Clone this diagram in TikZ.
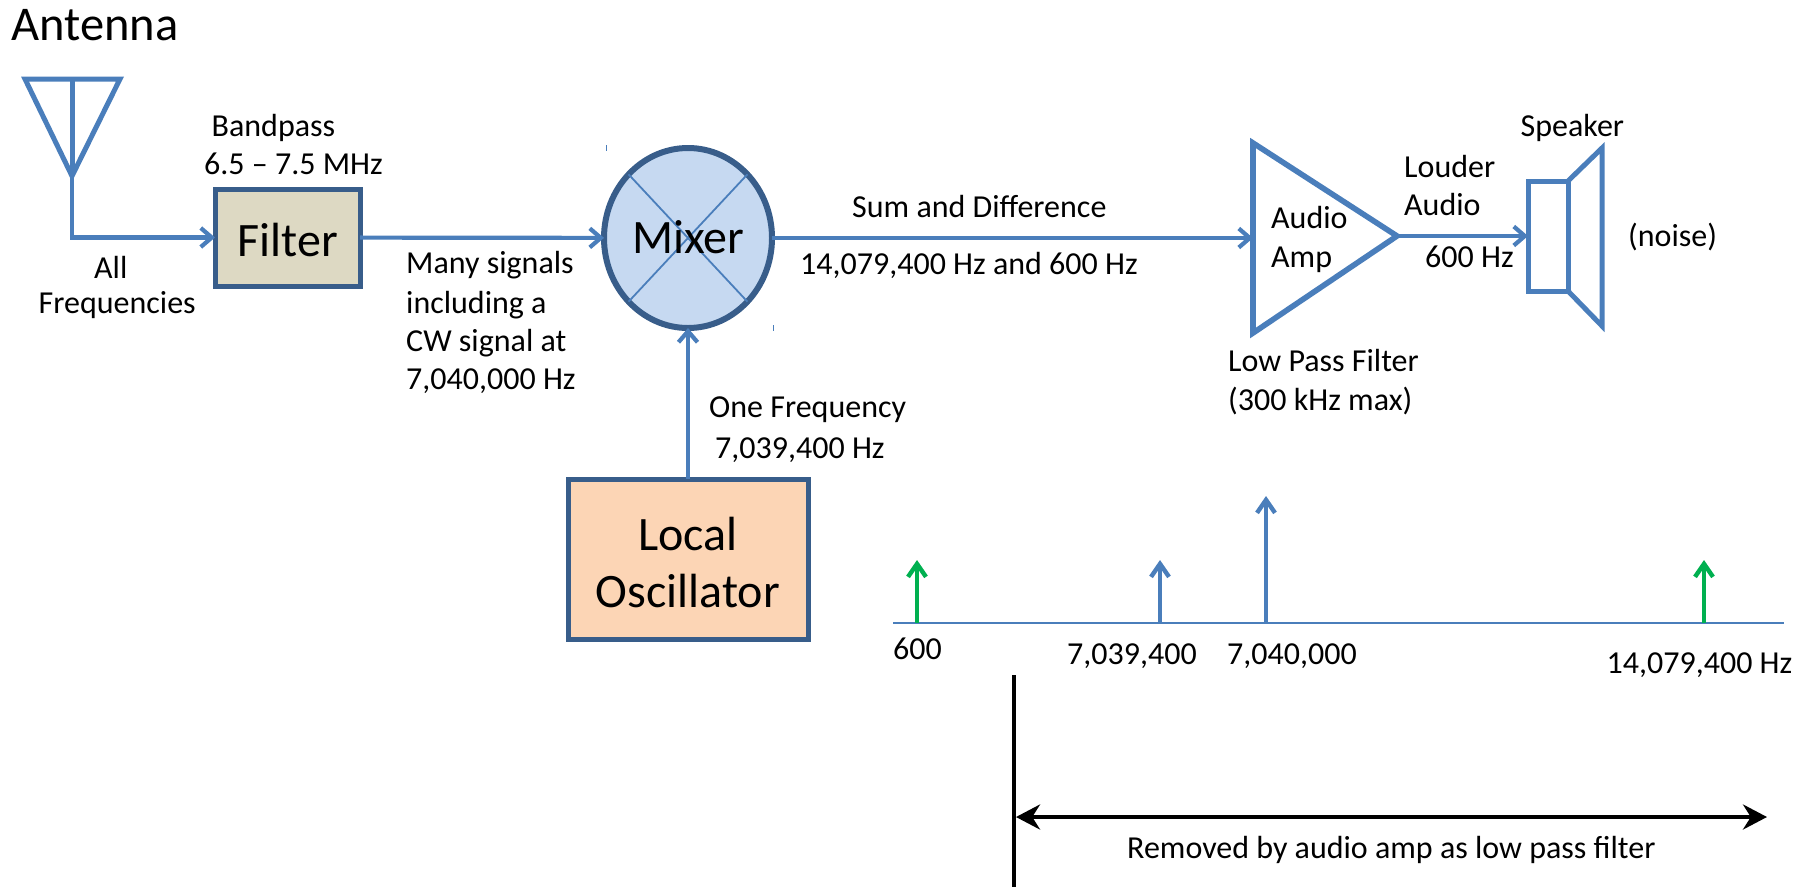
\documentclass[tikz,border=0pt]{standalone}
\usepackage{fontspec}
\setmainfont{Carlito}
\usetikzlibrary{arrows.meta,shapes.geometric}

\definecolor{wire}{HTML}{4A7EBB}
\definecolor{edgeblue}{HTML}{385D8A}
\definecolor{sumgreen}{HTML}{00B050}
\definecolor{filterfill}{HTML}{DDD9C3}
\definecolor{mixerfill}{HTML}{C6D9F1}
\definecolor{lofill}{HTML}{FCD5B5}

\tikzstyle{lbl}=[inner sep=0pt,anchor=base west,align=left,font=\fontsize{32}{38}\selectfont]
\tikzstyle{biglbl}=[inner sep=0pt,align=center,font=\fontsize{48}{57}\selectfont]
\tikzstyle{block}=[rectangle,draw=edgeblue,line width=5pt,inner sep=0pt,outer sep=0pt]
\tikzstyle{wireline}=[draw=wire,line width=5pt]
\tikzstyle{sig}=[wireline,line width=4.2pt,-{Straight Barb[length=11pt,width=19pt,line width=4.2pt]}]
\tikzstyle{spec}=[line width=3.6pt,-{Straight Barb[length=13pt,width=18pt,line width=4.4pt]}]
\tikzstyle{rangeedge}=[draw=black,line width=4pt,{Stealth[length=24pt,width=25pt]}-{Stealth[length=24pt,width=25pt]}]

\begin{document}
\begin{tikzpicture}[x=1pt,y=-1pt]
        \useasboundingbox (0,0) rectangle (1806,887);
        %
        \draw (1253,238) coordinate(ampin);
        \draw (1253,143) coordinate(amptop);
        \draw (1253,333) coordinate(ampbot);
        \draw (1397,236) coordinate(amptip);
        \draw (25,79) coordinate(antleft);
        \draw (120,79) coordinate(antright);
        \draw (72,79) coordinate(anttop);
        \draw (72,176) coordinate(anttip);
        %
        \draw (287.5,237.5) node[block,fill=filterfill,minimum width=145pt,minimum height=97pt](filter){};
        \draw (688,238) node[ellipse,draw=edgeblue,line width=6pt,fill=mixerfill,inner sep=0pt,outer sep=0pt,minimum width=168pt,minimum height=180pt](mixer){};
        \draw (688,559) node[block,fill=lofill,minimum width=240pt,minimum height=160pt](lo){};
        \draw (1548,236) node[block,draw=wire,minimum width=40pt,minimum height=110pt](spk){};
        %
        \draw (1568,181) coordinate(coneA);
        \draw (1602,148) coordinate(coneB);
        \draw (1602,326) coordinate(coneC);
        \draw (1568,291) coordinate(coneD);
        %
        \draw[wireline] (antleft) -- (antright) -- (anttip) -- cycle;
        \draw[wireline] (anttop) -- (anttip);
        \draw[wireline,line width=5.6pt,line join=miter] (amptop) -- (amptip) -- (ampbot) -- cycle;
        \draw[wireline] (coneA) -- (coneB) -- (coneC) -- (coneD);
        %
        \draw[wire,line width=1.8pt] (mixer.north west) -- (mixer.south east);
        \draw[wire,line width=1.8pt] (mixer.north east) -- (mixer.south west);
        \draw[wire,line width=1pt] (606,145) -- (606,151);
        \draw[wire,line width=1pt] (773,325) -- (773,331);
        %
        \path
            (anttip)  edge[sig,to path={|- (\tikztotarget)}]  (filter.west)
            (filter)  edge[sig]  (mixer)
            (lo)      edge[sig]  (mixer)
            (mixer)   edge[sig]  (ampin)
            (amptip)  edge[sig]  (spk)
        ;
        %
        \draw (11,40) node[lbl,font=\fontsize{48.5}{50}\selectfont](antenna){Antenna};
        \draw (211.5,136) node[lbl](bandpass){Bandpass};
        \draw (204,174) node[lbl](bandrange){6.5 – 7.5 MHz};
        \draw (288,256) node[biglbl,anchor=base](filtertext){Filter};
        \draw (688.5,253) node[biglbl,anchor=base](mixertext){Mixer};
        \draw (688,550) node[biglbl,anchor=base](localtext){Local};
        \draw (688,607) node[biglbl,anchor=base](osctext){Oscillator};
        \draw (94,278) node[lbl](allfreq){All};
        \draw (38.5,313) node[lbl](freqs){Frequencies};
        \draw (406,273) node[lbl](many1){Many signals};
        \draw (406,313) node[lbl](many2){including a};
        \draw (406,351) node[lbl](many3){CW signal at};
        \draw (406,389) node[lbl](many4){7,040,000 Hz};
        \draw (709,417) node[lbl](onefreq){One Frequency};
        \draw (715,458) node[lbl](lofreq){7,039,400 Hz};
        \draw (852,217) node[lbl](sumdiff){Sum and Difference};
        \draw (800,274.5) node[lbl](sumfreq){14,079,400 Hz and 600 Hz};
        \draw (1271,228) node[lbl](audio){Audio};
        \draw (1271,267) node[lbl](amp){Amp};
        \draw (1404,177) node[lbl](louder){Louder};
        \draw (1404,215) node[lbl](louder2){Audio};
        \draw (1425,267) node[lbl](outfreq){600 Hz};
        \draw (1520.5,136) node[lbl](speaker){Speaker};
        \draw (1628,246) node[lbl](noise){(noise)};
        \draw (1228,371) node[lbl](lowpass){Low Pass Filter};
        \draw (1228,410) node[lbl](maxfreq){(300 kHz max)};
        %
        \draw (893,623) coordinate(axleft);
        \draw (1784,623) coordinate(axright);
        \draw (917,623) coordinate(f1);
        \draw (917,560) coordinate(t1);
        \draw (1160,623) coordinate(f2);
        \draw (1160,560) coordinate(t2);
        \draw (1266,623) coordinate(f3);
        \draw (1266,496) coordinate(t3);
        \draw (1704,623) coordinate(f4);
        \draw (1704,560) coordinate(t4);
        \draw[wire,line width=2.5pt] (axleft) -- (axright);
        \draw[spec,sumgreen] (f1) -- (t1);
        \draw[spec,wire] (f2) -- (t2);
        \draw[spec,wire] (f3) -- (t3);
        \draw[spec,sumgreen] (f4) -- (t4);
        %
        \draw (893,659) node[lbl](lab600){600};
        \draw (1067,664) node[lbl](labdiff){7,039,400};
        \draw (1227,664) node[lbl](labcw){7,040,000};
        \draw (1606.5,673) node[lbl](labsum){14,079,400 Hz};
        %
        \draw (1014,675) coordinate(cuttop);
        \draw (1014,887) coordinate(cutbot);
        \draw (1016,817) coordinate(rangeL);
        \draw (1767,817) coordinate(rangeR);
        \draw[black,line width=4pt] (cuttop) -- (cutbot);
        \draw[rangeedge] (rangeL) -- (rangeR);
        \draw (1127,858) node[lbl](removed){Removed by audio amp as low pass filter};
\end{tikzpicture}
\end{document}
